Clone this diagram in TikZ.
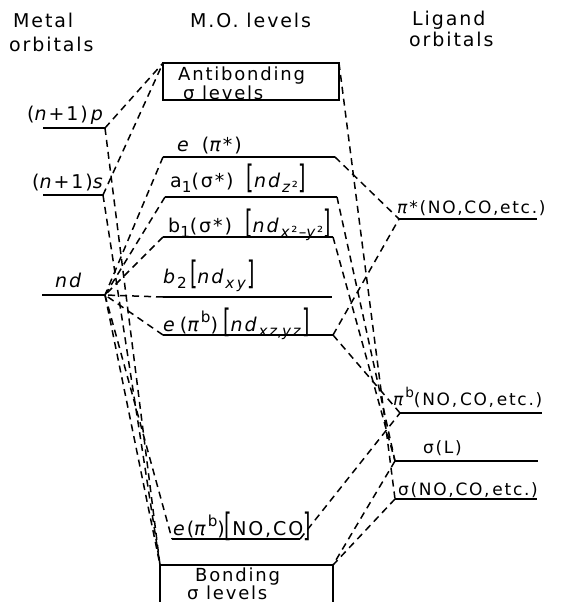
\documentclass[tikz,border=0pt]{standalone}
\usepackage{fontspec}
\usepackage{graphicx}
\setmainfont{DejaVu Sans}[LetterSpace=10]
\newcommand\LB{\raisebox{-0.1em}{\scalebox{1}[1.7]{[}}}
\newcommand\RB{\raisebox{-0.1em}{\scalebox{1}[1.7]{]}}}
\newcommand\lsub[1]{\raisebox{-0.3em}{\scalebox{0.8}{#1}}}
\newcommand\lsup[1]{\raisebox{0.45em}{\scalebox{0.8}{#1}}}
\begin{document}
\begin{tikzpicture}[x=1pt,y=-1pt,
  lvl/.style={line width=1.7pt},
  con/.style={line width=1.5pt, dash pattern=on 7pt off 5pt},
  boxline/.style={line width=1.4pt},
  lab/.style={anchor=base west, inner sep=0pt, font=\fontsize{19}{21}\selectfont},
  lig/.style={anchor=base west, inner sep=0pt, font=\fontsize{17}{19}\selectfont},
  big/.style={anchor=base west, inner sep=0pt, font=\fontsize{18}{20}\selectfont}]
\useasboundingbox (0,0) rectangle (563,602);
% headings
\node[lab] (hMetal) at (13,28) {Metal};
\node[lab] (hMetalB) at (9,52) {orbitals};
\node[lab] (hMO) at (190,28) {M.O. levels};
\node[lab] (hLig) at (412,26) {Ligand};
\node[lab] (hLigB) at (409,47) {orbitals};
% metal levels
\coordinate (ppL) at (43,128); \coordinate (ppR) at (105,128);
\coordinate (ssL) at (43,195); \coordinate (ssR) at (103,195);
\coordinate (ndL) at (42,295); \coordinate (ndR) at (105,295);
\draw[lvl] (ppL) -- (ppR);
\draw[lvl] (ssL) -- (ssR);
\draw[lvl] (ndL) -- (ndR);
\node[lab] (tpp) at (27,120) {(\textit{n}+1)\,\textit{p}};
\node[lab] (tss) at (32,188) {(\textit{n}+1)\textit{s}};
\node[lab] (tnd) at (55,287) {\textit{nd}};
% antibonding box
\coordinate (abTL) at (163,63); \coordinate (abTR) at (339,63);
\coordinate (abBL) at (163,100); \coordinate (abBR) at (339,100);
\draw[boxline] (abTL) rectangle (abBR);
\node[big] (tab1) at (178,81) {Antibonding};
\node[big] (tab2) at (183,99) {σ levels};
% MO levels
\coordinate (epsL) at (163,157); \coordinate (epsR) at (335,157);
\coordinate (aL) at (165,197); \coordinate (aR) at (337,197);
\coordinate (bL) at (163,237); \coordinate (bR) at (333,237);
\coordinate (btL) at (163,297); \coordinate (btR) at (332,297);
\coordinate (epbL) at (163,335); \coordinate (epbR) at (333,335);
\coordinate (enL) at (172,539); \coordinate (enR) at (300,539);
\draw[lvl] (epsL) -- (epsR);
\draw[lvl] (aL) -- (aR);
\draw[lvl] (bL) -- (bR);
\draw[lvl] (btL) -- (btR);
\draw[lvl] (epbL) -- (epbR);
\draw[lvl] (enL) -- (enR);
\node[lab] (teps) at (177,151) {\textit{e}\, (\textit{π}*)};
\node[lab] (ta) at (170,187) {a\lsub{1}(σ*)\; \LB\textit{nd}\lsub{\textit{z}²}\RB};
\node[lab] (tb) at (168,232) {b\lsub{1}(σ*)\; \LB\textit{nd}\lsub{\textit{x}²–\textit{y}²}\RB};
\node[lab] (tbt) at (163,283) {\textit{b}\lsub{2}\,\LB\textit{nd}\lsub{\textit{x\,y}}\RB};
\node[lab] (tepb) at (163,331) {\textit{e}\,(\textit{π}\lsup{b})\;\LB\textit{nd}\lsub{\textit{xz},\textit{yz}}\RB};
\node[lab] (ten) at (173,535) {\textit{e}(\textit{π}\lsup{b})\LB NO,CO\RB};
% bonding box
\coordinate (bbTL) at (160,565); \coordinate (bbTR) at (333,565);
\coordinate (bbBL) at (160,606); \coordinate (bbBR) at (333,606);
\draw[boxline] (bbBL) -- (bbTL) -- (bbTR) -- (bbBR);
\node[big] (tbb1) at (195,581) {Bonding};
\node[big] (tbb2) at (187,599) {σ levels};
% ligand levels
\coordinate (psL) at (399,219); \coordinate (psR) at (537,219);
\coordinate (pbL) at (400,413); \coordinate (pbR) at (542,413);
\coordinate (sLL) at (395,461); \coordinate (sLR) at (538,461);
\coordinate (sNL) at (395,499); \coordinate (sNR) at (537,499);
\draw[lvl] (psL) -- (psR);
\draw[lvl] (pbL) -- (pbR);
\draw[lvl] (sLL) -- (sLR);
\draw[lvl] (sNL) -- (sNR);
\node[lig] (tps) at (397,213) {\textit{π}*(NO,CO,etc.)};
\node[lig] (tpb) at (393,405) {\textit{π}\lsup{b}(NO,\,CO,\,etc.)};
\node[lig] (tsL) at (423,453) {σ(L)};
\node[lig] (tsN) at (398,495) {σ(NO,CO,\,etc.)};
% connectors: metal side
\draw[con] (ppR) -- (abTL);
\draw[con] (ssR) -- (abTL);
\draw[con] (ppR) -- (bbTL);
\draw[con] (ssR) -- (bbTL);
\draw[con] (ndR) -- (bbTL);
\draw[con] (ndR) -- (enL);
\draw[con] (epsL) -- (ndR);
\draw[con] (aL) -- (ndR);
\draw[con] (bL) -- (ndR);
\draw[con] (btL) -- (ndR);
\draw[con] (epbL) -- (ndR);
% connectors: ligand side
\draw[con] (epsR) -- (psL);
\draw[con] (epbR) -- (psL);
\draw[con] (epbR) -- (pbL);
\draw[con] (enR) -- (pbL);
\draw[con] (aR) -- (sLL);
\draw[con] (bR) -- (sLL);
\draw[con] (abTR) -- (sNL);
\draw[con] (sLL) -- (bbTR);
\draw[con] (sNL) -- (bbTR);
\end{tikzpicture}
\end{document}
